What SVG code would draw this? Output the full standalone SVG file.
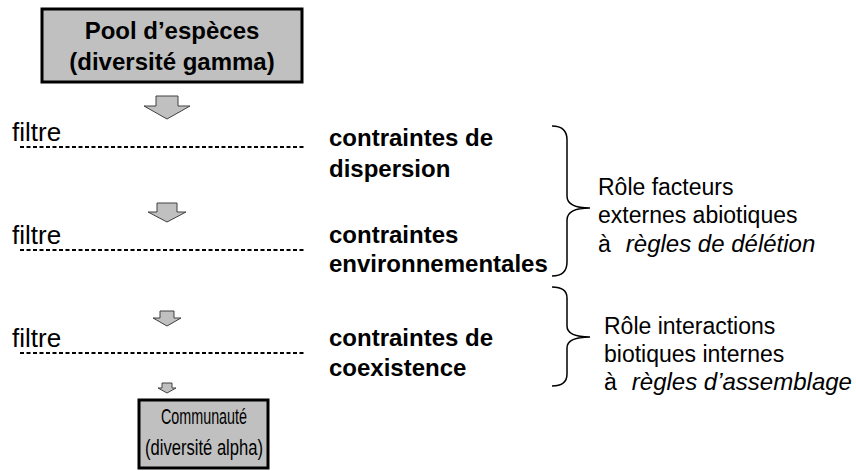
<svg xmlns="http://www.w3.org/2000/svg" width="856" height="471" viewBox="0 0 856 471">
<style>
.box{fill:#c0c0c0;stroke:#000;stroke-width:3}
.arr{fill:#c0c0c0;stroke:#404040;stroke-width:1}
.dash{stroke:#000;stroke-width:2;stroke-dasharray:4 2.5;fill:none}
.brace{fill:none;stroke:#000;stroke-width:1.5}
text{font-family:"Liberation Sans",Arial,sans-serif;fill:#000}
.t1{font-size:24px;font-weight:bold}
.t2{font-size:22px}
.b{font-size:24px;font-weight:bold}
.f{font-size:26px}
.r{font-size:23px}
.i{font-style:italic;font-size:24px}
</style>
<rect width="856" height="471" fill="#fff"/>
<g id="pool">
<rect class="box" x="42" y="9" width="260" height="73"/>
<text class="t1" x="172" y="39" text-anchor="middle">Pool d’espèces</text>
<text class="t1" x="172" y="70" text-anchor="middle">(diversité gamma)</text>
</g>
<g id="communaute">
<rect class="box" x="139" y="400" width="129" height="68"/>
<text class="t2" x="161" y="424" textLength="86" lengthAdjust="spacingAndGlyphs">Communauté</text>
<text class="t2" x="145" y="455" textLength="118" lengthAdjust="spacingAndGlyphs">(diversité alpha)</text>
</g>
<g id="connectors">
<polygon class="arr" points="156,96 178,96 178,106 190,106 167,119 144,106 156,106"/>
<polygon class="arr" points="157,203 177,203 177,212 186,212 167,222 148,212 157,212"/>
<polygon class="arr" points="160,311 174,311 174,318 181,318 167,326 153,318 160,318"/>
<polygon class="arr" points="162,383 172,383 172,388 176,388 167,393 158,388 162,388"/>
</g>
<g id="filtre1">
<text class="f" x="12" y="141">filtre</text>
<line class="dash" x1="20" y1="147" x2="306" y2="147"/>
</g>
<g id="filtre2">
<text class="f" x="12" y="244">filtre</text>
<line class="dash" x1="20" y1="250" x2="306" y2="250"/>
</g>
<g id="filtre3">
<text class="f" x="12" y="347">filtre</text>
<line class="dash" x1="20" y1="353" x2="306" y2="353"/>
</g>
<g id="c1">
<text class="b" x="329" y="146">contraintes de</text>
<text class="b" x="329" y="177">dispersion</text>
</g>
<g id="c2">
<text class="b" x="329" y="243">contraintes</text>
<text class="b" x="329" y="272">environnementales</text>
</g>
<g id="c3">
<text class="b" x="329" y="346">contraintes de</text>
<text class="b" x="329" y="376">coexistence</text>
</g>
<g id="brace1">
<path class="brace" d="M552,126 Q567,126 567,140 L567,196 Q567,208 590,208 Q567,208 567,220 L567,262 Q567,276 552,276"/>
</g>
<g id="brace2">
<path class="brace" d="M552,287 Q567,287 567,298 L567,326 Q567,337 590,337 Q567,337 567,348 L567,374 Q567,386 552,386"/>
</g>
<g id="role1">
<text class="r" x="598" y="195">Rôle facteurs</text>
<text class="r" x="598" y="223">externes abiotiques</text>
<text class="r" x="598" y="252">à<tspan class="i" dx="15">règles de délétion</tspan></text>
</g>
<g id="role2">
<text class="r" x="604" y="334">Rôle interactions</text>
<text class="r" x="604" y="362">biotiques internes</text>
<text class="r" x="604" y="390">à<tspan class="i" dx="15">règles d’assemblage</tspan></text>
</g>
</svg>
